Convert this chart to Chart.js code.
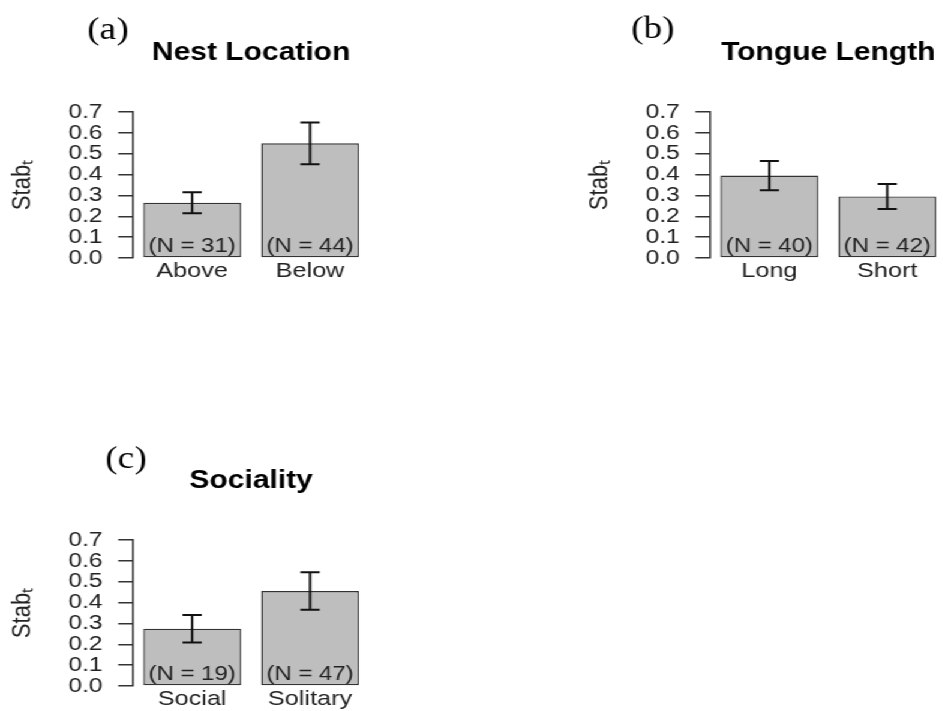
<!DOCTYPE html>
<html>
<head>
<meta charset="utf-8">
<script src="https://cdn.jsdelivr.net/npm/chart.js@4/dist/chart.umd.min.js"></script>
<style>
  html, body { margin: 0; padding: 0; background: #fff; overflow: hidden; width: 943px; height: 711px; }
  /* panels are laid out on a narrower stage and widened horizontally */
  #stage { position: absolute; left: 0; top: 0; width: 786px; height: 711px; transform: scaleX(1.2); transform-origin: 0 0; }
  #stage canvas { position: absolute; }
</style>
</head>
<body>
<div id="stage">
  <canvas id="panelA" width="330" height="300" style="left:0px;top:0px"></canvas>
  <canvas id="panelB" width="330" height="300" style="left:481px;top:0px"></canvas>
  <canvas id="panelC" width="330" height="300" style="left:0px;top:428px"></canvas>
</div>
<script>
// Stab_t by trait group: group means, error half-widths and sample sizes
const nestCategories = ['Above', 'Below'];
const nestMeans = [0.265, 0.55];
const nestErrors = [0.05, 0.10];
const nestCounts = [31, 44];

const tongueCategories = ['Long', 'Short'];
const tongueMeans = [0.395, 0.295];
const tongueErrors = [0.07, 0.06];
const tongueCounts = [40, 42];

const socialCategories = ['Social', 'Solitary'];
const socialMeans = [0.275, 0.455];
const socialErrors = [0.066, 0.09];
const socialCounts = [19, 47];

const yTickValues = [0.0, 0.1, 0.2, 0.3, 0.4, 0.5, 0.6, 0.7];

const SANS = '"Liberation Sans", Arial, Helvetica, sans-serif';
const SERIF = '"Liberation Serif", "Times New Roman", serif';

// error bars and sample-size labels drawn from each dataset's values
const errorBarPlugin = {
  id: 'errorBars',
  afterDatasetsDraw(chart) {
    const ds = chart.data.datasets[0];
    const meta = chart.getDatasetMeta(0);
    const y = chart.scales.y;
    const ctx = chart.ctx;
    ctx.save();
    meta.data.forEach((bar, i) => {
      const m = ds.data[i], e = ds.errors[i];
      const top = y.getPixelForValue(m + e);
      const bot = y.getPixelForValue(m - e);
      const cx = bar.x, half = 8;
      ctx.strokeStyle = '#111';
      ctx.lineWidth = 2;
      ctx.beginPath();
      ctx.moveTo(cx, top); ctx.lineTo(cx, bot);
      ctx.moveTo(cx - half, top); ctx.lineTo(cx + half, top);
      ctx.moveTo(cx - half, bot); ctx.lineTo(cx + half, bot);
      ctx.stroke();
      // sample size at the foot of the bar
      ctx.fillStyle = '#222';
      ctx.font = '20px ' + SANS;
      ctx.textAlign = 'center';
      ctx.textBaseline = 'alphabetic';
      ctx.fillText('(N = ' + ds.counts[i] + ')', cx, y.getPixelForValue(0) - 6);
    });
    ctx.restore();
  }
};

// panel letter such as "(a)"
const panelLetterPlugin = {
  id: 'panelLetter',
  afterDraw(chart, args, opts) {
    const ctx = chart.ctx;
    ctx.save();
    ctx.fillStyle = '#000';
    ctx.font = '31px ' + SERIF;
    ctx.textAlign = 'center';
    ctx.textBaseline = 'middle';
    ctx.fillText(opts.text, opts.x, opts.y);
    ctx.restore();
  }
};

function makePanel(canvasId, title, letter, categories, means, errors, counts) {
  return new Chart(document.getElementById(canvasId), {
    type: 'bar',
    data: {
      labels: categories,
      datasets: [{
        data: means,
        errors: errors,
        counts: counts,
        backgroundColor: '#bebebe',
        borderColor: '#333',
        borderWidth: 1.4,
        borderSkipped: false,
        categoryPercentage: 1.0,
        barPercentage: 0.83
      }]
    },
    options: {
      responsive: false,
      animation: false,
      devicePixelRatio: 1,
      layout: { padding: { left: 0, right: 22.5, top: 0, bottom: 12 } },
      plugins: {
        legend: { display: false },
        tooltip: { enabled: false },
        title: {
          display: true,
          text: title,
          fullSize: false,
          color: '#000',
          font: { family: SANS, size: 25, weight: 'bold' },
          padding: { top: 38, bottom: 44 }
        },
        panelLetter: letter
      },
      scales: {
        x: {
          type: 'category',
          offset: true,
          grid: { display: false, drawTicks: false },
          border: { display: false },
          ticks: { color: '#222', font: { family: SANS, size: 21 }, padding: 1, maxRotation: 0 },
          afterFit(scale) { scale.height = 30; }
        },
        y: {
          min: 0,
          max: 0.7,
          afterBuildTicks(scale) { scale.ticks = yTickValues.map(v => ({ value: v })); },
          afterFit(scale) { scale.width = 111; },
          grid: { drawOnChartArea: false, drawTicks: true, tickLength: 12.5, color: '#333', lineWidth: 1.5 },
          border: { display: true, color: '#333', width: 1.5 },
          ticks: {
            autoSkip: false,
            color: '#222',
            font: { family: SANS, size: 20.5 },
            padding: 13,
            callback: v => Number(v).toFixed(1)
          },
          title: {
            display: true,
            text: 'Stabₜ',
            color: '#222',
            font: { family: SANS, size: 22 },
            padding: { top: 6, bottom: 0 }
          }
        }
      }
    },
    plugins: [errorBarPlugin, panelLetterPlugin]
  });
}

makePanel('panelA', 'Nest Location', { text: '(a)', x: 90, y: 31 },
  nestCategories, nestMeans, nestErrors, nestCounts);
makePanel('panelB', 'Tongue Length', { text: '(b)', x: 63, y: 30 },
  tongueCategories, tongueMeans, tongueErrors, tongueCounts);
makePanel('panelC', 'Sociality', { text: '(c)', x: 105, y: 32 },
  socialCategories, socialMeans, socialErrors, socialCounts);
</script>
</body>
</html>
